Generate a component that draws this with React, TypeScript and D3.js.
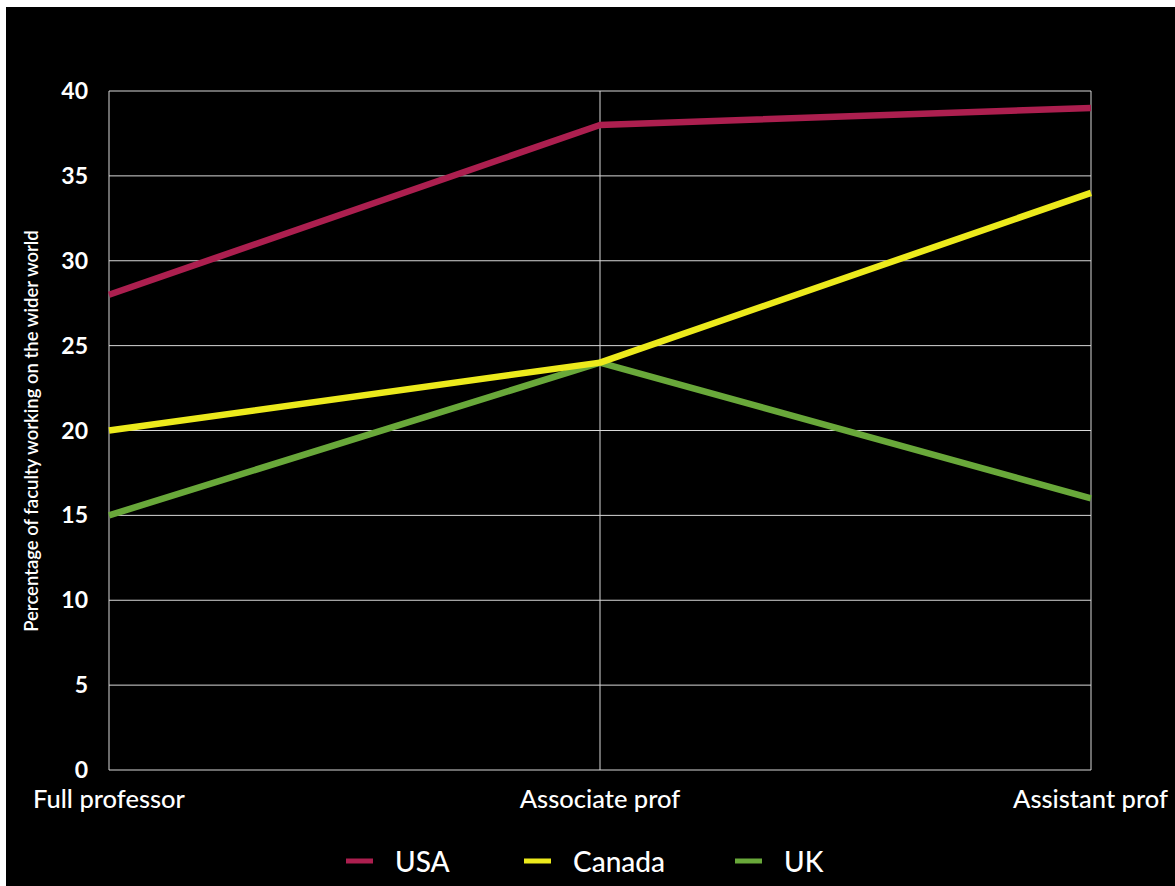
import React from "react";
import * as d3 from "d3";

// Career stages along the x axis
const stages: string[] = ["Full professor", "Associate prof", "Assistant prof"];

// Share of faculty working on the wider world, per country (%)
const usa: number[] = [28, 38, 39];
const canada: number[] = [20, 24, 34];
const uk: number[] = [15, 24, 16];

const yTicks: number[] = [0, 5, 10, 15, 20, 25, 30, 35, 40];

const seriesNames: string[] = ["USA", "Canada", "UK"];
const seriesColors: string[] = ["#ac1f4f", "#ecea1c", "#69a83a"];

const W = 1175;
const H = 886;
const M = { left: 109, right: 1091, top: 91, bottom: 770 };
const FONT = "Lato, 'Open Sans', sans-serif";

export default function App() {
  const x = d3.scalePoint<string>().domain(stages).range([M.left, M.right]);
  const y = d3.scaleLinear().domain([0, 40]).range([M.bottom, M.top]);

  const line = d3
    .line<number>()
    .x((_, i) => x(stages[i]) as number)
    .y((d) => y(d));

  const data = [usa, canada, uk];
  // draw order: UK under Canada, USA on top
  const drawOrder = [2, 1, 0];

  const legendX = [346, 524, 735];

  return (
    <svg
      width={W}
      height={H}
      style={{ position: "absolute", left: 0, top: 0, display: "block" }}
    >
      <rect x={0} y={0} width={W} height={H} fill="#ffffff" />
      <rect x={6} y={7} width={W - 6} height={H - 7} fill="#000000" />

      {/* horizontal grid */}
      {yTicks.map((t) => (
        <line
          key={"h" + t}
          x1={M.left}
          x2={M.right}
          y1={y(t)}
          y2={y(t)}
          stroke="#d8d8d8"
          strokeWidth={1}
        />
      ))}
      {/* vertical grid at each stage */}
      {stages.map((s) => (
        <line
          key={"v" + s}
          x1={x(s)}
          x2={x(s)}
          y1={M.top}
          y2={M.bottom}
          stroke="#d8d8d8"
          strokeWidth={1}
        />
      ))}

      {/* series lines */}
      {drawOrder.map((i) => (
        <path
          key={seriesNames[i]}
          d={line(data[i]) || ""}
          fill="none"
          stroke={seriesColors[i]}
          strokeWidth={6.5}
          strokeLinejoin="round"
        />
      ))}

      {/* y tick labels */}
      {yTicks.map((t) => (
        <text
          key={"t" + t}
          x={88}
          y={y(t)}
          dy="0.35em"
          textAnchor="end"
          fill="#ffffff"
          fontFamily={FONT}
          fontWeight={700}
          fontSize={23}
        >
          {t}
        </text>
      ))}

      {/* x category labels */}
      {stages.map((s, i) => (
        <text
          key={"c" + s}
          x={i === stages.length - 1 ? 1168 : (x(s) as number)}
          y={808}
          textAnchor={i === stages.length - 1 ? "end" : "middle"}
          fill="#ffffff"
          fontFamily={FONT}
          fontWeight={500}
          fontSize={25.5}
        >
          {s}
        </text>
      ))}

      {/* y axis title */}
      <text
        transform={`translate(38, ${431}) rotate(-90)`}
        textAnchor="middle"
        fill="#ffffff"
        fontFamily={FONT}
        fontWeight={600}
        fontSize={18.5}
      >
        Percentage of faculty working on the wider world
      </text>

      {/* legend */}
      {seriesNames.map((n, i) => (
        <g key={"l" + n}>
          <line
            x1={legendX[i]}
            x2={legendX[i] + 27}
            y1={861}
            y2={861}
            stroke={seriesColors[i]}
            strokeWidth={5}
          />
          <text
            x={legendX[i] + 49}
            y={872}
            fill="#ffffff"
            fontFamily={FONT}
            fontWeight={500}
            fontSize={28}
          >
            {n}
          </text>
        </g>
      ))}
    </svg>
  );
}
